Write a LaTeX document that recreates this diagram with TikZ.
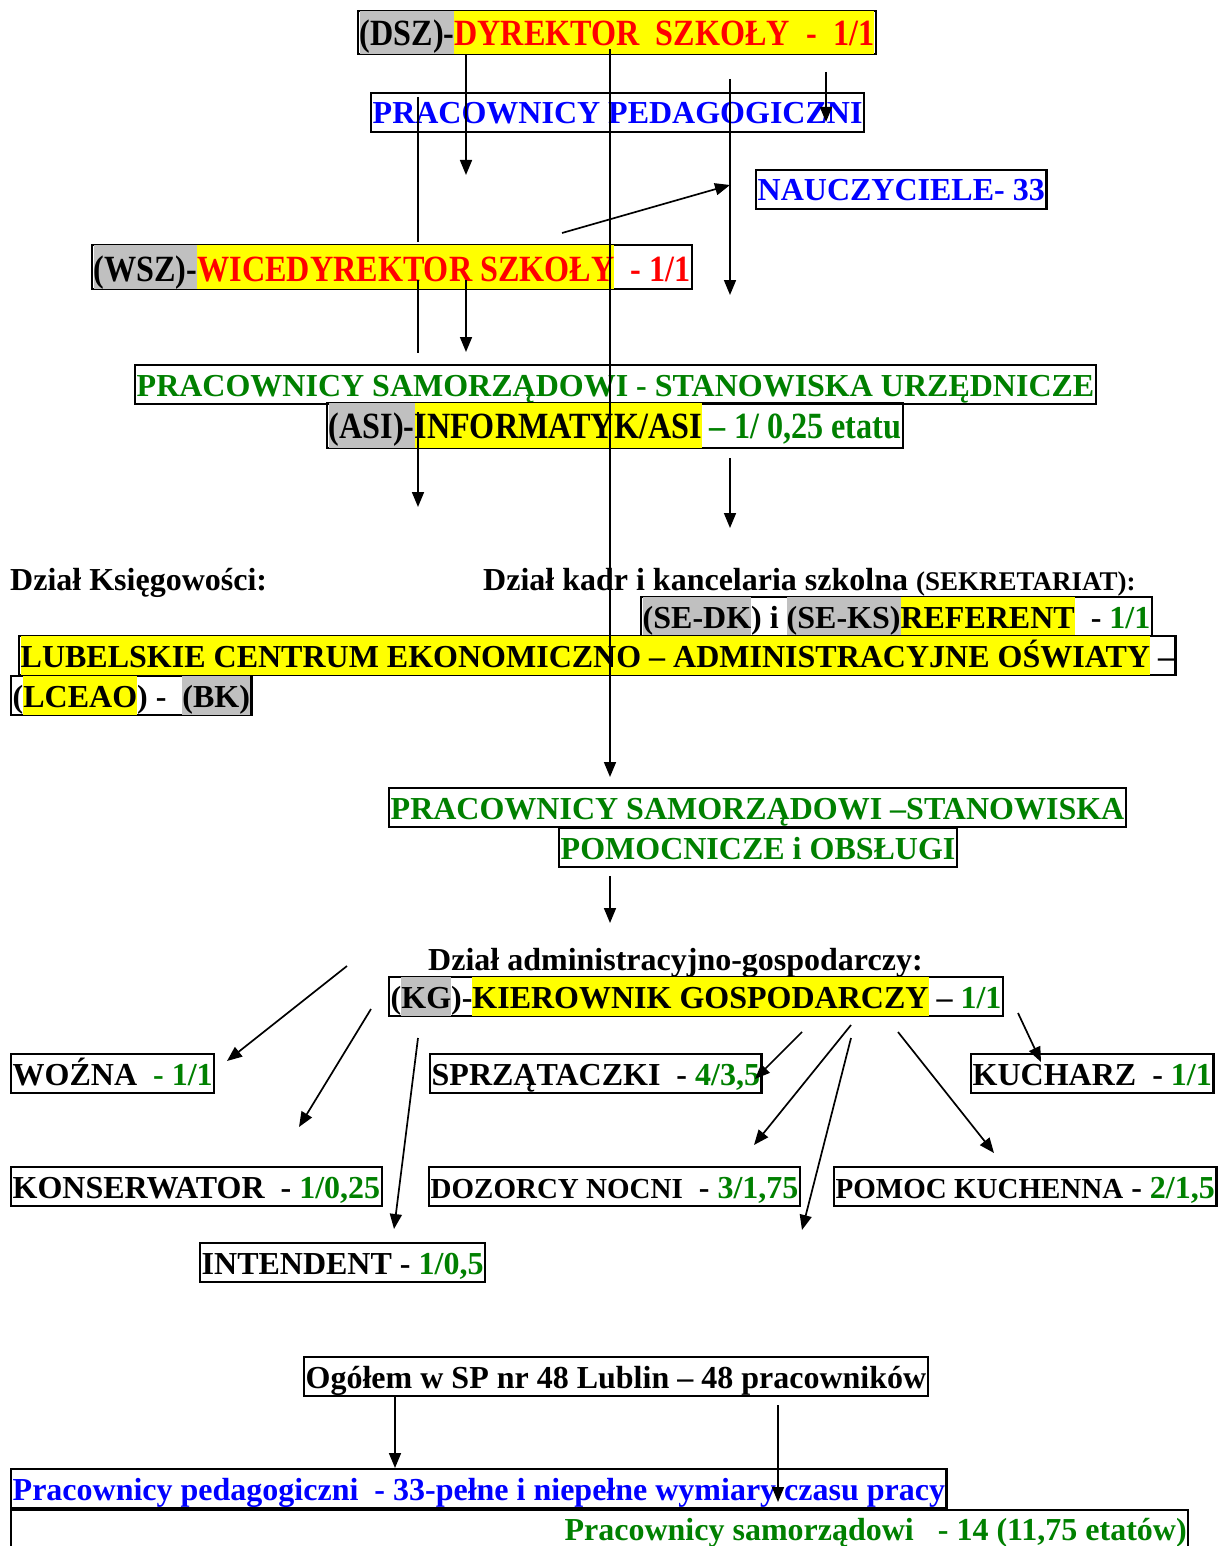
\documentclass[tikz,border=0pt]{standalone}
\usepackage{fontspec}
\setmainfont{Liberation Serif}
\newfontfamily\condfont{Liberation Serif}[FakeStretch=0.87]
\usetikzlibrary{arrows.meta}
\definecolor{hlgray}{RGB}{192,192,192}
\definecolor{hlyel}{RGB}{255,255,0}
\definecolor{tred}{RGB}{255,0,0}
\definecolor{tblue}{RGB}{0,0,255}
\definecolor{tgreen}{RGB}{0,128,0}
\newlength\hlh
\newlength\hld
\newcommand\HL[2]{{\setlength\fboxsep{0pt}\colorbox{#1}{\vrule width0pt height\hlh depth\hld\relax#2}}}
\newcommand\G[1]{\textcolor{tgreen}{#1}}
\newcommand\R[1]{\textcolor{tred}{#1}}
\begin{document}
\begin{tikzpicture}[x=1pt,y=-1pt,
  bx/.style 2 args={draw, line width=2.4pt, inner xsep=1.5pt, inner ysep=0pt,
    anchor=base west, text height=#1, text depth=#2,
    execute at begin node={\setlength\hlh{#1}\setlength\hld{#2}}},
  regf/.style={font=\fontsize{32}{38}\selectfont\bfseries},
  reg/.style={bx={31pt}{8pt}, regf},
  cond/.style={font=\condfont\fontsize{37}{44}\selectfont\bfseries},
  lbl/.style={anchor=base west, inner sep=0pt, regf},
  arr/.style={line width=1.7pt, -{Triangle[length=15pt,width=12pt]}},
  ln/.style={line width=1.7pt}]
\fill[white] (0,0) rectangle (1223,1546);
\useasboundingbox (0,0) rectangle (1223,1546);

% boxes
\node[bx={35pt}{8pt}, cond] (dsz) at (357,46) {\HL{hlgray}{(DSZ)-}\HL{hlyel}{\R{DYREKTOR~~SZKOŁY~~-~~1/1}}};
\node[reg, text=tblue] (pp) at (370,124) {PRACOWNICY PEDAGOGICZNI};
\node[reg, text=tblue] (nau) at (755,201) {NAUCZYCIELE- 33};
\node[bx={36pt}{8pt}, cond] (wsz) at (91,281) {\HL{hlgray}{(WSZ)-}\HL{hlyel}{\R{WICEDYREKTOR SZKOŁY}}\R{~~- 1/1}};
\node[reg, text=tgreen] (psu) at (134,396) {PRACOWNICY SAMORZĄDOWI - STANOWISKA URZĘDNICZE};
\node[bx={35pt}{10pt}, cond] (asi) at (326,438) {\HL{hlgray}{(ASI)-}\HL{hlyel}{INFORMATYK/ASI}~\G{– 1/ 0,25 etatu}};

\node[lbl] (dks) at (10,590) {Dział Księgowości:};
\node[lbl] (dkadr) at (483,590) {Dział kadr i kancelaria szkolna {\fontsize{27}{31}\selectfont(SEKRETARIAT):}};

\node[reg] (ref) at (640,628) {\HL{hlgray}{(SE-DK}) i \HL{hlgray}{(SE-KS)}\HL{hlyel}{REFERENT}~~- \G{1/1}};
\node[reg] (lub) at (18,667) {\HL{hlyel}{LUBELSKIE CENTRUM EKONOMICZNO – ADMINISTRACYJNE OŚWIATY} –};
\node[reg] (lce) at (10,707) {(\HL{hlyel}{LCEAO}) -~~\HL{hlgray}{(BK)}};

\node[reg, text=tgreen] (pss) at (388,819) {PRACOWNICY SAMORZĄDOWI –STANOWISKA};
\node[reg, text=tgreen] (pom) at (558,859) {POMOCNICZE i OBSŁUGI};

\node[lbl] (dag) at (428,970) {Dział administracyjno-gospodarczy:};
\node[reg] (kg) at (388,1008) {(\HL{hlgray}{KG})-\HL{hlyel}{KIEROWNIK GOSPODARCZY} – \G{1/1}};

\node[reg] (woz) at (10,1085) {WOŹNA~~\G{- 1/1}};
\node[reg] (spr) at (429,1085) {SPRZĄTACZKI~~- \G{4/3,5}};
\node[reg] (kuc) at (970,1085) {KUCHARZ~~- \G{1/1}};
\node[reg] (kon) at (10,1198) {KONSERWATOR~~- \G{1/0,25}};
\node[reg] (doz) at (428,1198) {{\fontsize{29}{34}\selectfont DOZORCY NOCNI}~~- \G{3/1,75}};
\node[reg] (pomk) at (833,1198) {{\fontsize{29}{34}\selectfont POMOC KUCHENNA} - \G{2/1,5}};
\node[reg] (int) at (199,1274) {INTENDENT - \G{1/0,5}};

\node[reg] (ogo) at (303,1388) {Ogółem w SP nr 48 Lublin – 48 pracowników};
\node[reg, text=tblue] (ppb) at (10,1500) {Pracownicy pedagogiczni~~- 33-pełne i niepełne wymiary czasu pracy};
\node[bx={30pt}{60pt}, regf, text=tgreen] (psb) at (10,1540) {\makebox[1174pt][r]{Pracownicy samorządowi~~~- 14 (11,75 etatów)}};

% connector end points
\coordinate (a1s) at (466,54);   \coordinate (a1e) at (466,175);
\coordinate (a2s) at (610,49);   \coordinate (a2e) at (610,777);
\coordinate (a3s) at (826,72);   \coordinate (a3e) at (826,122);
\coordinate (a4s) at (730,79);   \coordinate (a4e) at (730,295);
\coordinate (a5s) at (562,233);  \coordinate (a5e) at (730,185);
\coordinate (l1s) at (418,97);   \coordinate (l1e) at (418,242);
\coordinate (l2s) at (418,280);  \coordinate (l2e) at (418,353);
\coordinate (a6s) at (466,280);  \coordinate (a6e) at (466,352);
\coordinate (a7s) at (418,412);  \coordinate (a7e) at (418,507);
\coordinate (a8s) at (730,458);  \coordinate (a8e) at (730,528);
\coordinate (a9s) at (610,876);  \coordinate (a9e) at (610,923);
\coordinate (b1s) at (347,966);  \coordinate (b1e) at (227,1061);
\coordinate (b2s) at (371,1009); \coordinate (b2e) at (299,1127);
\coordinate (b3s) at (418,1038); \coordinate (b3e) at (394,1229);
\coordinate (b4s) at (802,1032); \coordinate (b4e) at (755,1079);
\coordinate (b5s) at (851,1025); \coordinate (b5e) at (754,1145);
\coordinate (b6s) at (851,1038); \coordinate (b6e) at (802,1230);
\coordinate (b7s) at (898,1032); \coordinate (b7e) at (994,1153);
\coordinate (b8s) at (1018,1013);\coordinate (b8e) at (1041,1062);
\coordinate (c1s) at (395,1396); \coordinate (c1e) at (395,1468);
\coordinate (c2s) at (778,1405); \coordinate (c2e) at (778,1502);

% connectors
\draw[arr] (a1s) -- (a1e);
\draw[arr] (a2s) -- (a2e);
\draw[arr] (a3s) -- (a3e);
\draw[arr] (a4s) -- (a4e);
\draw[arr] (a5s) -- (a5e);
\draw[ln] (l1s) -- (l1e);
\draw[ln] (l2s) -- (l2e);
\draw[arr] (a6s) -- (a6e);
\draw[arr] (a7s) -- (a7e);
\draw[arr] (a8s) -- (a8e);
\draw[arr] (a9s) -- (a9e);
\draw[arr] (b1s) -- (b1e);
\draw[arr] (b2s) -- (b2e);
\draw[arr] (b3s) -- (b3e);
\draw[arr] (b4s) -- (b4e);
\draw[arr] (b5s) -- (b5e);
\draw[arr] (b6s) -- (b6e);
\draw[arr] (b7s) -- (b7e);
\draw[arr] (b8s) -- (b8e);
\draw[arr] (c1s) -- (c1e);
\draw[arr] (c2s) -- (c2e);
\end{tikzpicture}
\end{document}
